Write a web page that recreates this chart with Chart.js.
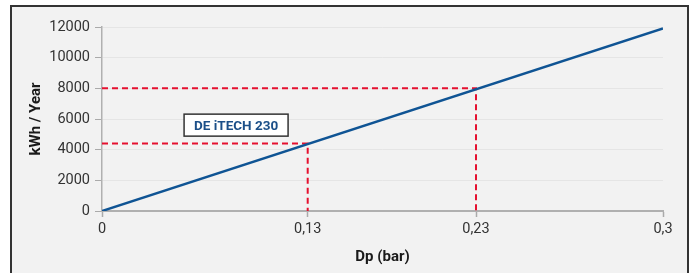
<!DOCTYPE html>
<html>
<head>
<meta charset="utf-8">
<script src="https://cdn.jsdelivr.net/npm/chart.js@4/dist/chart.umd.min.js"></script>
<style>
  html, body { margin: 0; padding: 0; background: #ffffff; }
  #wrap { position: relative; width: 697px; height: 273px; overflow: hidden; }
  #frame { position: absolute; left: 10px; top: 5px; width: 675px; height: 300px;
           border: 2px solid #333333; background: #f2f2f2; }
  #c { position: absolute; left: 0; top: 0; }
</style>
</head>
<body>
<div id="wrap">
  <div id="frame"></div>
  <canvas id="c" width="697" height="273"></canvas>
</div>
<script>
// ---- data ----
const xTickValues = [0, 0.11, 0.2, 0.3];
const xTickLabels = ['0', '0,13', '0,23', '0,3'];
const yTickValues = [0, 2000, 4000, 6000, 8000, 10000, 12000];
const lineX = [0, 0.3];
const lineY = [0, 11900];
const markerX = [0.11, 0.2];
const markerY = [4400, 8000];
const boxLabel = 'DE iTECH 230';
const xTitle = 'Dp (bar)';
const yTitle = 'kWh / Year';

const FONT = 'Roboto, "DejaVu Sans", sans-serif';

const datasets = [];
markerX.forEach((mx, i) => {
  datasets.push({
    data: [{x: 0, y: markerY[i]}, {x: mx, y: markerY[i]}, {x: mx, y: 0}],
    borderColor: '#e5102f',
    borderWidth: 2,
    borderDash: [6, 4],
    pointRadius: 0,
    fill: false,
    tension: 0,
    order: 2
  });
});
datasets.push({
  data: lineX.map((x, i) => ({x: x, y: lineY[i]})),
  borderColor: '#0f5494',
  borderWidth: 2.5,
  pointRadius: 0,
  fill: false,
  tension: 0,
  order: 1
});

const labelBoxPlugin = {
  id: 'labelBox',
  afterDatasetsDraw(chart) {
    const ctx = chart.ctx;
    const xs = chart.scales.x, ys = chart.scales.y;
    const cx = xs.getPixelForValue(0.0717);
    const cy = ys.getPixelForValue(5600);
    ctx.save();
    ctx.font = 'bold 13.5px ' + FONT;
    const w = 104, h = 22;
    ctx.fillStyle = '#ffffff';
    ctx.fillRect(cx - w / 2, cy - h / 2, w, h);
    ctx.strokeStyle = '#333333';
    ctx.lineWidth = 1.5;
    ctx.strokeRect(cx - w / 2, cy - h / 2, w, h);
    ctx.fillStyle = '#1b4f88';
    ctx.textAlign = 'center';
    ctx.textBaseline = 'middle';
    ctx.fillText(boxLabel, cx, cy + 1);
    ctx.restore();
  }
};

new Chart(document.getElementById('c'), {
  type: 'line',
  data: { datasets: datasets },
  plugins: [labelBoxPlugin],
  options: {
    responsive: false,
    devicePixelRatio: 1,
    animation: false,
    layout: { padding: { left: 0, right: 34, top: 27, bottom: 0 } },
    plugins: { legend: { display: false }, tooltip: { enabled: false } },
    scales: {
      x: {
        type: 'linear',
        min: 0, max: 0.3,
        afterBuildTicks: s => { s.ticks = xTickValues.map(v => ({value: v})); },
        afterFit: s => { s.height = 62; },
        ticks: {
          autoSkip: false,
          maxRotation: 0,
          padding: 4,
          color: '#333333',
          font: { family: FONT, size: 14.5 },
          callback: (v, i) => xTickLabels[i]
        },
        grid: { drawOnChartArea: false, drawTicks: true, tickLength: 6, tickColor: '#aaaaaa', tickWidth: 1.5 },
        border: { display: true, color: '#b0b0b0', width: 2 },
        title: { display: true, text: xTitle, color: '#1a1a1a',
                 font: { family: FONT, size: 15, weight: 'bold' }, padding: { top: 0, bottom: 7 } }
      },
      y: {
        type: 'linear',
        min: 0, max: 12000,
        afterBuildTicks: s => { s.ticks = yTickValues.map(v => ({value: v})); },
        afterFit: s => { s.width = 102; },
        ticks: {
          padding: 5,
          color: '#333333',
          font: { family: FONT, size: 14.5 },
          callback: v => String(v)
        },
        grid: { color: '#e5e5e5', lineWidth: 1, drawTicks: true, tickLength: 7, tickColor: '#aaaaaa' },
        border: { display: true, color: '#b0b0b0', width: 1.5 },
        title: { display: true, text: yTitle, color: '#1a1a1a',
                 font: { family: FONT, size: 15, weight: 'bold' }, padding: { top: 27, bottom: 0 } }
      }
    }
  }
});
</script>
</body>
</html>
